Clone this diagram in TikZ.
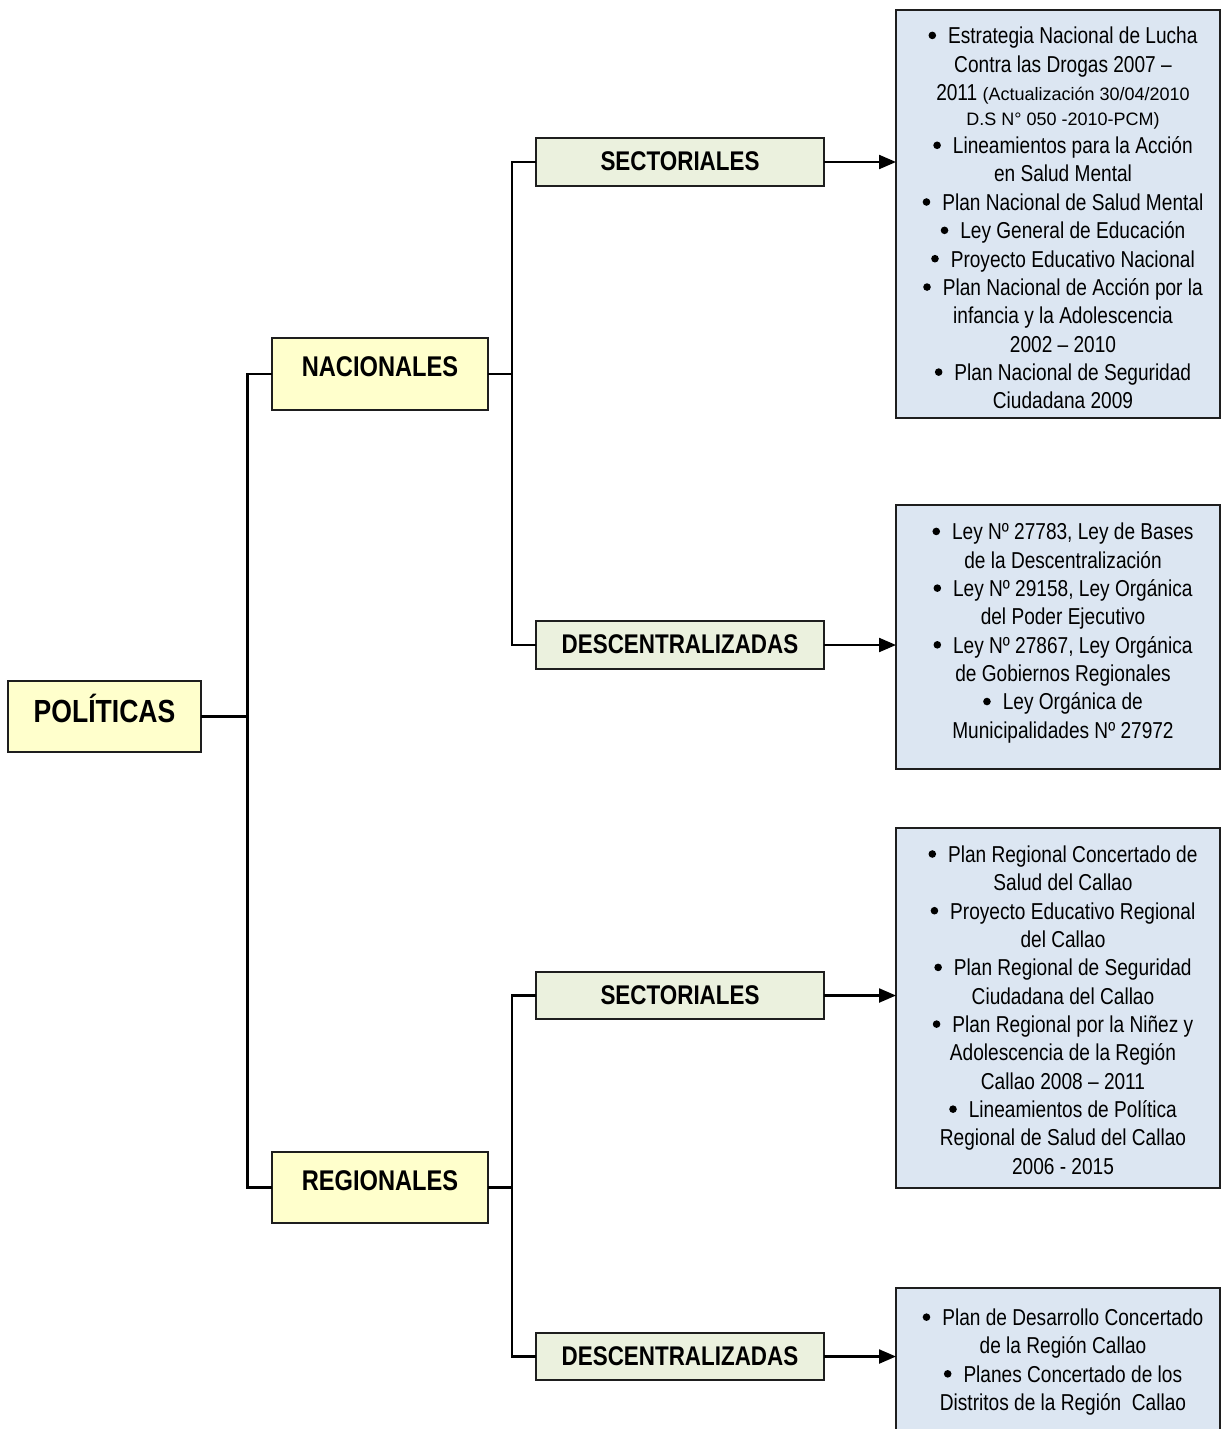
\documentclass[tikz,border=0pt]{standalone}
\usepackage{fontspec}
\setmainfont[FakeStretch=0.83]{Liberation Sans}
\newfontfamily\widefont{Liberation Sans}
\usetikzlibrary{arrows.meta}
\definecolor{yellowfill}{RGB}{255,255,204}
\definecolor{greenfill}{RGB}{235,241,222}
\definecolor{bluefill}{RGB}{220,230,242}
\definecolor{edge}{RGB}{30,30,30}
\tikzset{
  box/.style={draw=edge, line width=2pt, inner sep=0pt, outer sep=0pt},
  topbox/.style={box, fill=yellowfill},
  subbox/.style={box, fill=greenfill, minimum width=288pt, text height=19.3pt, text depth=2pt, font=\fontsize{27}{30}\selectfont\bfseries},
  listbox/.style={box, fill=bluefill, minimum width=324pt},
  listtext/.style={align=center, inner sep=0pt, font=\fontsize{23}{28.35}\selectfont},
  link/.style={line width=2.2pt, draw=black},
  arr/.style={link, -{Triangle[length=17pt,width=14pt]}}
}
\newcommand{\bul}{\tikz[x=1pt,y=1pt,baseline=0pt]\fill (0,8.3) circle (3.8);\hspace{12pt}}
\newcommand{\smalltxt}[1]{{\widefont\fontsize{18}{20}\selectfont #1}}
\begin{document}
\begin{tikzpicture}[x=1pt,y=-1pt]
\useasboundingbox (0,0) rectangle (1222,1429);
% main boxes
\node[topbox, minimum width=193pt, minimum height=71pt, text height=22.9pt, text depth=11pt, font=\fontsize{32}{34}\selectfont\bfseries] (pol) at (104.5,716.5) {POLÍTICAS};
\node[topbox, minimum width=216pt, minimum height=72pt, text height=20.4pt, text depth=16pt, font=\fontsize{28.5}{30}\selectfont\bfseries] (nac) at (380,374) {NACIONALES};
\node[topbox, minimum width=216pt, minimum height=71pt, text height=20.4pt, text depth=15pt, font=\fontsize{28.5}{30}\selectfont\bfseries] (reg) at (380,1187.5) {REGIONALES};
\node[subbox, minimum height=48pt] (sec1) at (680,162) {SECTORIALES};
\node[subbox, minimum height=48pt] (des1) at (680,645) {DESCENTRALIZADAS};
\node[subbox, minimum height=47pt] (sec2) at (680,995.5) {SECTORIALES};
\node[subbox, minimum height=47pt] (des2) at (680,1356.5) {DESCENTRALIZADAS};
% list boxes
\node[listbox, minimum height=408pt] (b1) at (1058,214) {};
\node[listbox, minimum height=264pt] (b2) at (1058,637) {};
\node[listbox, minimum height=360pt] (b3) at (1058,1008) {};
\node[listbox, minimum height=160pt] (b4) at (1058,1368) {};
% list texts
\node[listtext] (t1) at (1063,218) {%
\bul Estrategia Nacional de Lucha\\
Contra las Drogas 2007 –\\
2011 \smalltxt{(Actualización 30/04/2010}\\[-3.5pt]
\smalltxt{D.S N° 050 -2010-PCM)}\\
\bul Lineamientos para la Acción\\
en Salud Mental\\
\bul Plan Nacional de Salud Mental\\
\bul Ley General de Educación\\
\bul Proyecto Educativo Nacional\\
\bul Plan Nacional de Acción por la\\
infancia y la Adolescencia\\
2002 – 2010\\
\bul Plan Nacional de Seguridad\\
Ciudadana 2009};
\node[listtext] (t2) at (1063,633) {%
\bul Ley Nº 27783, Ley de Bases\\
de la Descentralización\\
\bul Ley Nº 29158, Ley Orgánica\\
del Poder Ejecutivo\\
\bul Ley Nº 27867, Ley Orgánica\\
de Gobiernos Regionales\\
\bul Ley Orgánica de\\
Municipalidades Nº 27972};
\node[listtext] (t3) at (1063,1010) {%
\bul Plan Regional Concertado de\\
Salud del Callao\\
\bul Proyecto Educativo Regional\\
del Callao\\
\bul Plan Regional de Seguridad\\
Ciudadana del Callao\\
\bul Plan Regional por la Niñez y\\
Adolescencia de la Región\\
Callao 2008 – 2011\\
\bul Lineamientos de Política\\
Regional de Salud del Callao\\
2006 - 2015};
\node[listtext] (t4) at (1063,1362) {%
\bul Plan de Desarrollo Concertado\\
de la Región Callao\\
\bul Planes Concertado de los\\
Distritos de la Región\ \ Callao};
% connectors
\draw[link] (pol.east) -- ++(46.5,0) |- (nac.west);
\draw[link] (pol.east) -- ++(46.5,0) |- (reg.west);
\draw[link] (nac.east) -- ++(24,0) |- (sec1.west);
\draw[link] (nac.east) -- ++(24,0) |- (des1.west);
\draw[link] (reg.east) -- ++(24,0) |- (sec2.west);
\draw[link] (reg.east) -- ++(24,0) |- (des2.west);
\draw[arr] (sec1.east) -- (sec1.east -| b1.west);
\draw[arr] (des1.east) -- (des1.east -| b2.west);
\draw[arr] (sec2.east) -- (sec2.east -| b3.west);
\draw[arr] (des2.east) -- (des2.east -| b4.west);
\end{tikzpicture}
\end{document}
